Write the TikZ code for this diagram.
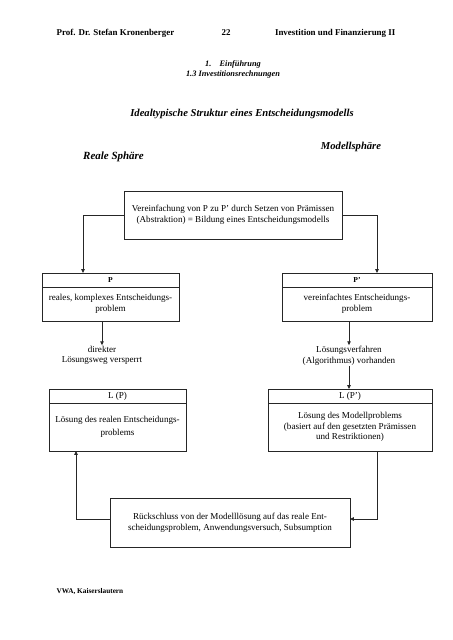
\documentclass[tikz,border=0pt]{standalone}
\usepackage{fontspec}
\setmainfont{Liberation Serif}
\usepackage{tikz}
\usetikzlibrary{arrows.meta,positioning}

\begin{document}
\begin{tikzpicture}[x=0.4646mm, y=-0.4646mm, >={Triangle[length=5pt,width=4.5pt]}]
      \tikzstyle{box} = [draw=black!85, line width=1pt, outer sep=0pt, inner sep=2pt, align=center, font=\fontsize{12}{14}\selectfont]
      \tikzstyle{txt} = [align=center, inner sep=1pt, font=\fontsize{12}{14}\selectfont]
      \tikzstyle{conn} = [->, draw=black!85, line width=1pt]
      \useasboundingbox (0,0) rectangle (452,640);
      % page head
      \node[anchor=west, font=\bfseries\fontsize{11.8}{13}\selectfont] (prof) at (54,33) {Prof. Dr. Stefan Kronenberger};
      \node[font=\bfseries\fontsize{11.8}{13}\selectfont] (page) at (226,33) {22};
      \node[anchor=east, font=\bfseries\fontsize{11.8}{13}\selectfont] (lect) at (398,33) {Investition und Finanzierung II};
      \node[align=center, font=\bfseries\itshape\fontsize{11}{14}\selectfont] (chap) at (233,69.5) {1.\quad Einführung\\1.3 Investitionsrechnungen};
      \node[font=\bfseries\itshape\fontsize{14}{16}\selectfont] (title) at (242,114) {Idealtypische Struktur eines Entscheidungsmodells};
      \node[font=\bfseries\itshape\fontsize{14.5}{16}\selectfont] (real) at (113.5,157) {Reale Sphäre};
      \node[font=\bfseries\itshape\fontsize{14}{16}\selectfont] (model) at (351,147) {Modellsphäre};
      % boxes
      \node[box, minimum width=218*0.4646mm, minimum height=48*0.4646mm] (top) at (233,215)
        {Vereinfachung von P zu P’ durch Setzen von Prämissen\\(Abstraktion) = Bildung eines Entscheidungsmodells};
      \node[box, minimum width=137*0.4646mm, minimum height=14*0.4646mm, font=\bfseries\fontsize{10}{12}\selectfont] (p) at (110.5,280) {P};
      \node[box, below=0pt of p, minimum width=137*0.4646mm, minimum height=34*0.4646mm] (pbody)
        {reales, komplexes Entscheidungs-\\problem};
      \node[box, minimum width=150*0.4646mm, minimum height=14*0.4646mm, font=\bfseries\fontsize{10}{12}\selectfont] (pp) at (357,280) {P’};
      \node[box, below=0pt of pp, minimum width=150*0.4646mm, minimum height=34*0.4646mm] (ppbody)
        {vereinfachtes Entscheidungs-\\problem};
      \node[txt] (dir) at (102,355.5) {direkter\\Lösungsweg versperrt};
      \node[txt] (alg) at (349,355.5) {Lösungsverfahren\\(Algorithmus) vorhanden};
      \node[box, minimum width=137*0.4646mm, minimum height=14*0.4646mm] (lp) at (117.5,396) {L (P)};
      \node[box, below=0pt of lp, minimum width=137*0.4646mm, minimum height=48*0.4646mm] (lpbody)
        {Lösung des realen Entscheidungs-\\[4pt]problems};
      \node[box, minimum width=164*0.4646mm, minimum height=14*0.4646mm] (lpp) at (350,396) {L (P’)};
      \node[box, below=0pt of lpp, minimum width=164*0.4646mm, minimum height=48*0.4646mm] (lppbody)
        {Lösung des Modellproblems\\(basiert auf den gesetzten Prämissen\\und Restriktionen)};
      \node[box, minimum width=240*0.4646mm, minimum height=49*0.4646mm] (back) at (230,522.5)
        {Rückschluss von der Modelllösung auf das reale Ent-\\scheidungsproblem, Anwendungsversuch, Subsumption};
      \node[anchor=west, font=\bfseries\fontsize{9.6}{11}\selectfont] (vwa) at (54,592) {VWA, Kaiserslautern};
      % connectors
      \coordinate (rline) at (377,519);
      \coordinate (lline) at (76,519);
      \draw[conn] (top.west) -| (p.north -| 83,0);
      \draw[conn] (top.east) -| (pp.north -| rline);
      \draw[conn] (pbody.south -| dir.north) -- (dir.north);
      \draw[conn] (ppbody.south -| alg.north) -- (alg.north);
      \draw[conn] (alg.south) -- (lpp.north -| alg.south);
      \draw[conn] (lppbody.south -| rline) |- (back.east |- rline);
      \draw[conn] (back.west |- lline) -| (lpbody.south -| lline);
\end{tikzpicture}
\end{document}
